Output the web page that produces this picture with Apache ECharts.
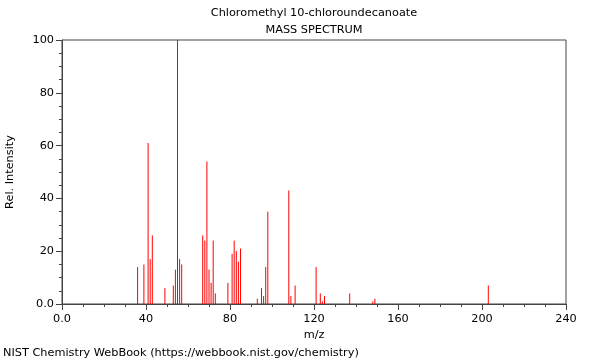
<!DOCTYPE html>
<html>
<head>
<meta charset="utf-8">
<script src="https://cdn.jsdelivr.net/npm/echarts@6/dist/echarts.min.js"></script>
<style>html,body{margin:0;padding:0;background:#fff;}#c{width:600px;height:360px;}</style>
</head>
<body>
<div id="c"></div>
<script>
var titleText = 'Chloromethyl 10-chloroundecanoate';
var subtitleText = 'MASS SPECTRUM';
var footerText = 'NIST Chemistry WebBook (https://webbook.nist.gov/chemistry)';
var mz = [36,39,41,42,43,49,53,54,55,56,57,67,68,69,70,71,72,73,79,81,82,83,84,85,93,95,96,97,98,108,109,111,121,123,124,125,137,148,149,203];
var intensity = [14,15,61,17,26,6,7,13,100,17,15,26,24,54,13,8,24,4,8,19,24,20,16,21,2,6,3,14,35,43,3,7,14,4,1,3,4,1,2,7];
var xTicks = [0,40,80,120,160,200,240];
var yTicks = [0,20,40,60,80,100];

var data = mz.map(function(m,i){return [m,intensity[i]];});
var font = 'DejaVu Sans';
var fs = 11.3;
var chart = echarts.init(document.getElementById('c'));
chart.setOption({
  animation:false,
  backgroundColor:'#fff',
  textStyle:{fontFamily:font},
  grid:{left:62,right:34,top:40,bottom:56,show:true,borderColor:'#444',borderWidth:1,backgroundColor:'transparent',containLabel:false,outerBoundsMode:'none'},
  xAxis:{type:'value',min:xTicks[0],max:xTicks[xTicks.length-1],interval:40,
    name:'m/z',nameLocation:'middle',nameGap:23,nameTextStyle:{fontSize:fs,color:'#000',fontFamily:font},
    axisLine:{show:true,lineStyle:{color:'#444',width:1}},
    axisTick:{show:true,length:6,lineStyle:{color:'#444'}},
    minorTick:{show:true,splitNumber:4,length:3,lineStyle:{color:'#444'}},
    splitLine:{show:false},
    axisLabel:{fontSize:fs,color:'#000',margin:10,fontFamily:font,formatter:function(v){return v===0?'0.0':String(v);}}
  },
  yAxis:{type:'value',min:yTicks[0],max:yTicks[yTicks.length-1],interval:20,
    name:'Rel. Intensity',nameLocation:'middle',nameGap:46,nameTextStyle:{fontSize:fs,color:'#000',fontFamily:font},
    axisLine:{show:true,lineStyle:{color:'#444',width:1}},
    axisTick:{show:true,length:6,lineStyle:{color:'#444'}},
    minorTick:{show:true,splitNumber:4,length:3,lineStyle:{color:'#444'}},
    splitLine:{show:false},
    axisLabel:{fontSize:fs,color:'#000',margin:8,fontFamily:font,formatter:function(v){return v===0?'0.0':String(v);}}
  },
  graphic:[
    {type:'text',x:314,y:13,style:{text:titleText,fontSize:fs,fill:'#000',fontFamily:font,align:'center',verticalAlign:'middle'}},
    {type:'text',x:314,y:30,style:{text:subtitleText,fontSize:fs,fill:'#000',fontFamily:font,align:'center',verticalAlign:'middle'}},
    {type:'text',x:3,y:353,style:{text:footerText,fontSize:fs,fill:'#000',fontFamily:font,align:'left',verticalAlign:'middle'}}
  ],
  series:[{
    type:'custom',
    data:data,
    clip:true,
    renderItem:function(params,api){
      var p0=api.coord([api.value(0),0]);
      var p1=api.coord([api.value(0),api.value(1)]);
      return {type:'line',shape:{x1:p0[0],y1:p0[1],x2:p1[0],y2:p1[1]},style:{stroke:'#ff0000',lineWidth:1}};
    }
  }]
});
</script>
</body>
</html>
